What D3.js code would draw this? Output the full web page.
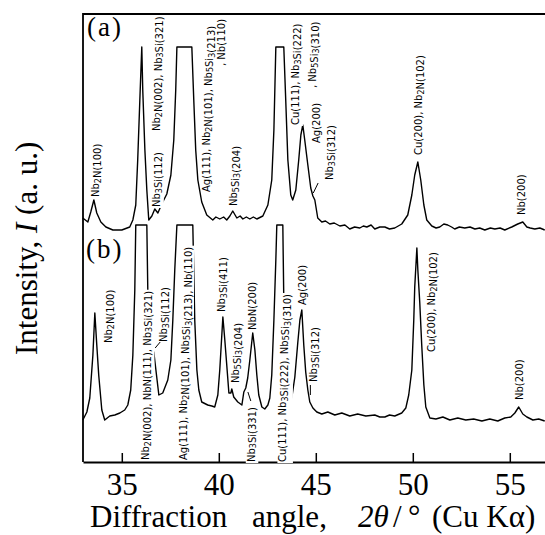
<!DOCTYPE html>
<html lang="en">
<head>
  <meta charset="UTF-8">
  <title>XRD patterns (a) and (b)</title>
  <script src="https://d3js.org/d3.v7.min.js"></script>
  <style>
    body {
      margin: 0;
      background: #fff;
    }
    svg {
      display: block;
    }
    .peak-label {
      font-family: "DejaVu Sans", Verdana, sans-serif;
      font-size: 10px;
    }
    .serif {
      font-family: "Liberation Serif", "Times New Roman", serif;
    }
  </style>
</head>
<body>
  <div id="chart"></div>

  <script>
    // 2theta (deg) and intensity (a.u., 100 = top of the panel, peaks above are clipped)
    const patternA = [
      [32.99, 14.5], [33.25, 12.5], [33.40, 17.5], [33.56, 23.5], [33.71, 17], [33.92, 12.5],
      [34.18, 10], [34.54, 8.5], [35.0, 8.5], [35.41, 10], [35.57, 13.5], [35.72, 21],
      [35.82, 43.5], [35.93, 73.5], [36.03, 100], [36.08, 78.5], [36.19, 48.5], [36.29, 28.5],
      [36.39, 13.5], [36.55, 15.5], [36.70, 19], [36.86, 17], [37.06, 21.5], [37.32, 26.5],
      [37.53, 36], [37.68, 53.5], [37.78, 78.5], [37.84, 100], [38.61, 100], [38.71, 73.5],
      [38.81, 48.5], [38.92, 33.5], [39.12, 22.5], [39.38, 16], [39.69, 13.5], [39.85, 15],
      [40.05, 14], [40.25, 15], [40.41, 13.5], [40.57, 15.5], [40.72, 18], [40.93, 14.5],
      [41.1, 15.5], [41.24, 14], [41.42, 15], [41.60, 14], [41.78, 15], [41.96, 14],
      [42.27, 15.5], [42.53, 21], [42.73, 33.5], [42.84, 58.5], [42.94, 100], [43.35, 100],
      [43.45, 73.5], [43.56, 43.5], [43.71, 26], [43.81, 23.5], [43.97, 28.5], [44.12, 43.5],
      [44.23, 56], [44.33, 61], [44.43, 53.5], [44.59, 41], [44.74, 29.5], [44.85, 25.5],
      [44.95, 23.5], [45.10, 14.5], [45.31, 12.5], [45.5, 13], [45.72, 11.5], [45.95, 12],
      [46.24, 10.5], [46.5, 11], [46.75, 9], [47.0, 10], [47.27, 9.5], [47.45, 10.5],
      [47.63, 10], [47.85, 11], [48.04, 9], [48.3, 10], [48.56, 10], [48.8, 9],
      [49.07, 9.5], [49.25, 10.5], [49.43, 11.5], [49.74, 16], [49.95, 26], [50.10, 36],
      [50.26, 42.5], [50.41, 33.5], [50.57, 21], [50.72, 13.5], [50.98, 10.5], [51.2, 9.5],
      [51.39, 10], [51.6, 11.5], [51.80, 11], [52.0, 10], [52.16, 9], [52.4, 10],
      [52.68, 9.5], [52.95, 10], [53.20, 9], [53.45, 9.5], [53.71, 8.5], [54.0, 9.5],
      [54.23, 9], [54.5, 9.5], [54.74, 8.5], [55.10, 10], [55.41, 11.5], [55.67, 12.5],
      [55.88, 10], [56.05, 9.5], [56.29, 9], [56.55, 9.5], [56.80, 8.5]
    ];

    const patternB = [
      [32.99, 2.5], [33.20, 6.5], [33.35, 13.5], [33.51, 35], [33.61, 56], [33.71, 40],
      [33.81, 25], [33.97, 7.5], [34.12, 2.5], [34.38, 4.5], [34.64, 5], [34.90, 6],
      [35.15, 7.5], [35.31, 10], [35.46, 17.5], [35.57, 35], [35.67, 67.5], [35.72, 100],
      [36.29, 100], [36.34, 67.5], [36.44, 27.5], [36.55, 21], [36.65, 36.5], [36.80, 24],
      [36.91, 15], [37.11, 16], [37.37, 22.5], [37.53, 32.5], [37.63, 52.5], [37.73, 77.5],
      [37.84, 100], [38.66, 100], [38.76, 52.5], [38.87, 27.5], [38.97, 17.5], [39.12, 11.5],
      [39.43, 10], [39.64, 9.5], [39.79, 9], [39.95, 15], [40.05, 27.5], [40.21, 54],
      [40.31, 42.5], [40.41, 30], [40.52, 16], [40.62, 16], [40.67, 18], [40.77, 14],
      [40.98, 11.5], [41.19, 10], [41.29, 16.5], [41.39, 18.5], [41.49, 23.5], [41.60, 32.5],
      [41.75, 46], [41.86, 37.5], [41.96, 25], [42.06, 15], [42.22, 9], [42.37, 8],
      [42.53, 10], [42.63, 13.5], [42.73, 25], [42.84, 52.5], [42.94, 82.5], [42.99, 100],
      [43.30, 100], [43.35, 62.5], [43.45, 27.5], [43.61, 12.5], [43.76, 13.5], [43.92, 24],
      [44.07, 41], [44.18, 52.5], [44.28, 57.5], [44.38, 40], [44.48, 26.5], [44.59, 17.5],
      [44.69, 11.5], [44.85, 8.5], [45.05, 6.5], [45.31, 5.5], [45.62, 6.5], [45.98, 5],
      [46.34, 6], [46.75, 4.5], [47.16, 5.5], [47.58, 4.5], [48.04, 5], [48.3, 4],
      [48.56, 4], [48.8, 5], [49.07, 4.5], [49.43, 6], [49.64, 8.5], [49.79, 15],
      [49.95, 27.5], [50.05, 52.5], [50.10, 69], [50.21, 88.5], [50.26, 77.5], [50.36, 61],
      [50.46, 40], [50.57, 20], [50.67, 9], [50.88, 3.5], [51.19, 3], [51.55, 4],
      [51.91, 2.5], [52.32, 3.5], [52.73, 2.5], [53.14, 3], [53.56, 2], [53.97, 3],
      [54.38, 2], [54.74, 3.5], [55.05, 4], [55.26, 6], [55.46, 9], [55.67, 5.5],
      [55.88, 4], [56.19, 2.5], [56.49, 3], [56.80, 2]
    ];

    // peak assignments: text ("_" marks a subscript digit), 2theta and intensity where the text starts
    const labelsA = [
      { text: "Nb_2N(100)", theta: 33.66, level: 25 },
      { text: "Nb_3Si(112)", theta: 36.80, level: 20 },
      { text: "Nb_2N(002), Nb_3Si(321)", theta: 36.80, level: 58 },
      { text: "Ag(111), Nb_2N(101), Nb_5Si_3(213)", theta: 39.38, level: 27.5 },
      { text: ",  Nb(110)", theta: 40.15, level: 90.5 },
      { text: "Nb_5Si_3(204)", theta: 40.77, level: 20.5 },
      { text: "Cu(111), Nb_3Si(222)", theta: 43.97, level: 61 },
      { text: ",  Nb_5Si_3(310)", theta: 44.85, level: 79.5 },
      { text: "Ag(200)", theta: 45.05, level: 52 },
      { text: "Nb_3Si(312)", theta: 45.72, level: 33.5 },
      { text: "Cu(200), Nb_2N(102)", theta: 50.31, level: 46 },
      { text: "Nb(200)", theta: 55.62, level: 16 }
    ];

    const labelsB = [
      { text: "Nb_2N(100)", theta: 34.33, level: 41 },
      { text: "Nb_2N(002), NbN(111), Nb_3Si(321)", theta: 36.24, level: -17.5 },
      { text: "Nb_3Si(112)", theta: 37.16, level: 41.5 },
      { text: "Ag(111), Nb_2N(101), Nb_5Si_3(213), Nb(110)", theta: 38.20, level: -17.5 },
      { text: "Nb_3Si(411)", theta: 40.15, level: 56.5 },
      { text: "Nb_5Si_3(204)", theta: 40.88, level: 21 },
      { text: "Nb_3Si(331)", theta: 41.67, level: -18.5 },
      { text: "NbN(200)", theta: 41.75, level: 47.5 },
      { text: "Cu(111), Nb_3Si(222), Nb_5Si_3(310)", theta: 43.30, level: -18.5 },
      { text: "Ag(200)", theta: 44.33, level: 60 },
      { text: "Nb_3Si(312)", theta: 44.90, level: 21.5 },
      { text: "Cu(200), Nb_2N(102)", theta: 50.98, level: 36.5 },
      { text: "Nb(200)", theta: 55.52, level: 12.5 }
    ];

    // short leader strokes [theta1, level1, theta2, level2]
    const leadersA = [[44.87, 27, 45.12, 32]];
    const leadersB = [[36.72, 38.5, 36.98, 41.5], [41.5, 16.5, 41.65, 12], [44.72, 20, 44.72, 15]];

    const tickValues = [35, 40, 45, 50, 55];

    const W = 545, H = 535;
    const svg = d3.select("#chart").append("svg")
      .attr("width", W)
      .attr("height", H);

    const frame = { left: 83, top: 14, bottom: 462 };

    const x = d3.scaleLinear().domain([33, 57]).range([frame.left, frame.left + 24 * 19.4]);
    const yA = d3.scaleLinear().domain([0, 100]).range([247, 47]);
    const yB = d3.scaleLinear().domain([0, 100]).range([425, 225]);

    // frame (left, top, bottom); right edge falls outside the picture
    svg.append("path")
      .attr("d", `M${x(57)},${frame.top}H${frame.left}V${frame.bottom}`)
      .attr("fill", "none")
      .attr("stroke", "#000")
      .attr("stroke-width", 1.8);

    const xAxis = d3.axisBottom(x)
      .tickValues(tickValues)
      .tickSizeInner(-9)
      .tickSizeOuter(0)
      .tickPadding(11)
      .tickFormat(d3.format("d"));

    const axisG = svg.append("g")
      .attr("transform", `translate(0,${frame.bottom})`)
      .call(xAxis);
    axisG.select(".domain").attr("stroke-width", 1.8);
    axisG.selectAll(".tick line").attr("stroke-width", 1.5);
    axisG.selectAll(".tick text")
      .attr("class", "serif")
      .style("font-size", "31px");
    axisG.attr("font-family", null).attr("font-size", null);

    // traces
    function drawPattern(data, y) {
      const line = d3.line()
        .x(d => x(d[0]))
        .y(d => y(Math.min(d[1], 100)));
      svg.append("path")
        .datum(data)
        .attr("fill", "none")
        .attr("stroke", "#000")
        .attr("stroke-width", 1.4)
        .attr("stroke-linejoin", "round")
        .attr("d", line);
    }
    drawPattern(patternA, yA);
    drawPattern(patternB, yB);

    // rotated peak labels with a white backing
    function drawLabels(labels, y) {
      labels.forEach(l => {
        const g = svg.append("g")
          .attr("transform", `translate(${x(l.theta) + 3.6},${y(l.level)}) rotate(-90)`);
        const t = g.append("text").attr("class", "peak-label");
        l.text.split(/(_\d)/).filter(s => s.length).forEach(part => {
          if (part[0] === "_") {
            t.append("tspan").attr("font-size", "8px").attr("dy", 1.5).text(part[1]);
            t.append("tspan").attr("dy", -1.5).text("");
          } else {
            t.append("tspan").text(part);
          }
        });
        const bb = t.node().getBBox();
        g.insert("rect", "text")
          .attr("x", bb.x - 1)
          .attr("y", bb.y)
          .attr("width", bb.width + 2)
          .attr("height", bb.height)
          .attr("fill", "#fff");
      });
    }
    drawLabels(labelsA, yA);
    drawLabels(labelsB, yB);

    function drawLeaders(leaders, y) {
      leaders.forEach(s => {
        svg.append("line")
          .attr("x1", x(s[0])).attr("y1", y(s[1]))
          .attr("x2", x(s[2])).attr("y2", y(s[3]))
          .attr("stroke", "#000")
          .attr("stroke-width", 1);
      });
    }
    drawLeaders(leadersA, yA);
    drawLeaders(leadersB, yB);

    // panel letters
    svg.append("text").attr("class", "serif")
      .attr("x", 87).attr("y", 36)
      .style("font-size", "27px").style("letter-spacing", "2px")
      .text("(a)");
    svg.append("text").attr("class", "serif")
      .attr("x", 86).attr("y", 258)
      .style("font-size", "27px").style("letter-spacing", "2px")
      .text("(b)");

    // axis titles
    const xTitle = svg.append("text").attr("class", "serif")
      .attr("y", 527)
      .style("font-size", "31px");
    xTitle.append("tspan").attr("x", 90).text("Diffraction");
    xTitle.append("tspan").attr("x", 252).text("angle,");
    xTitle.append("tspan").attr("x", 358).style("font-style", "italic").text("2θ");
    xTitle.append("tspan").attr("x", 393).text("/");
    xTitle.append("tspan").attr("x", 408).text("°");
    xTitle.append("tspan").attr("x", 432).text("(Cu Kα)");

    const yTitle = svg.append("text").attr("class", "serif")
      .attr("transform", "translate(37,355) rotate(-90)")
      .style("font-size", "31px");
    yTitle.append("tspan").text("Intensity, ");
    yTitle.append("tspan").style("font-style", "italic").text("I");
    yTitle.append("tspan").text(" (a. u.)");
  </script>
</body>
</html>
